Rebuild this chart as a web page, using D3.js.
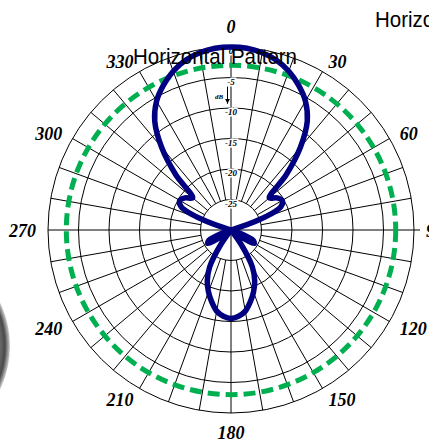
<!DOCTYPE html>
<html>
<head>
<meta charset="utf-8">
<script src="https://cdn.jsdelivr.net/npm/d3@7"></script>
<style>
  body { margin: 0; background: #fff; }
  svg { display: block; }
</style>
</head>
<body>
<div id="chart"></div>
<script>
// --------------------------------------
//  Data
// --------------------------------------

const title = "Horizontal Pattern";

// azimuth (deg) and relative level (dB)
const azimuth = [
    0,   5,  10,  15,  20,  25,  30,  35,  40,  45,  50,  55,
   60,  65,  70,  75,  80,  85,  90,  95, 100, 105, 110, 115,
  120, 125, 130, 135, 140, 145, 150, 155, 160, 165, 170, 175,
  180, 185, 190, 195, 200, 205, 210, 215, 220, 225, 230, 235,
  240, 245, 250, 255, 260, 265, 270, 275, 280, 285, 290, 295,
  300, 305, 310, 315, 320, 325, 330, 335, 340, 345, 350, 355];

const level = [
    0.0,  -0.1,  -0.5,  -1.2,  -2.3,  -3.8,  -5.6,  -8.2, -12.3, -17.2, -21.8, -20.8,
  -20.3, -21.0, -25.0, -30.0, -30.0, -30.0, -30.0, -30.0, -30.0, -30.0, -28.5, -26.0,
  -25.6, -28.0, -30.0, -30.0, -30.0, -27.0, -23.0, -20.8, -19.2, -17.8, -16.5, -15.8,
  -15.5, -15.8, -16.5, -17.8, -19.2, -20.8, -23.0, -27.0, -30.0, -30.0, -30.0, -28.0,
  -25.6, -26.0, -28.5, -30.0, -30.0, -30.0, -30.0, -30.0, -30.0, -30.0, -25.0, -21.0,
  -20.3, -20.8, -21.8, -17.2, -12.3,  -8.2,  -5.6,  -3.8,  -2.3,  -1.2,  -0.5,  -0.1];

const ringLevels = [-25, -20, -15, -10, -5, 0];
const ringLabels = ["-25", "-20", "-15", "-10", "-5", "0"];
const spokeAngles = [10, 20, 30, 40, 50, 60, 70, 80, 100, 110, 120, 130, 140, 150, 160, 170,
  190, 200, 210, 220, 230, 240, 250, 260, 280, 290, 300, 310, 320, 330, 340, 350];
const tickAngles = [0, 30, 60, 90, 120, 150, 180, 210, 240, 270, 300, 330];
const tickLabels = ["0", "30", "60", "90", "120", "150", "180", "210", "240", "270", "300", "330"];
const refLevel = -3;

// --------------------------------------
//  Canvas
// --------------------------------------

const width = 429;
const height = 445;
const cx = 231;
const cy = 230;
const R = 183;

const svg = d3.select("#chart")
  .append("svg")
    .attr("width", width)
    .attr("height", height)
    .attr("viewBox", `0 0 ${width} ${height}`);

// grey blob on the left edge
const defs = svg.append("defs");
const grad = defs.append("radialGradient").attr("id", "blob");
grad.append("stop").attr("offset", "0.80").attr("stop-color", "#9c9c9c");
grad.append("stop").attr("offset", "0.90").attr("stop-color", "#6a6a6a");
grad.append("stop").attr("offset", "0.95").attr("stop-color", "#4a4a4a");
grad.append("stop").attr("offset", "1").attr("stop-color", "#d0d0d0");
svg.append("circle")
    .attr("cx", -90)
    .attr("cy", 346)
    .attr("r", 100)
    .attr("fill", "url(#blob)");

const g = svg.append("g")
    .attr("transform", `translate(${cx}, ${cy})`);

// --------------------------------------
//  Scales
// --------------------------------------

const r = d3.scaleLinear()
    .domain([-30, 0])
    .range([0, R])
    .clamp(true);

const rad = d => d * Math.PI / 180;

// --------------------------------------
//  Grid
// --------------------------------------

g.selectAll(".ring")
  .data(ringLevels)
  .join("circle")
    .attr("class", "ring")
    .attr("r", d => r(d))
    .attr("fill", "none")
    .attr("stroke", "#000")
    .attr("stroke-width", 1);

g.selectAll(".spoke")
  .data(spokeAngles)
  .join("line")
    .attr("class", "spoke")
    .attr("x1", d => r(-25) * Math.sin(rad(d)))
    .attr("y1", d => -r(-25) * Math.cos(rad(d)))
    .attr("x2", d => R * Math.sin(rad(d)))
    .attr("y2", d => -R * Math.cos(rad(d)))
    .attr("stroke", "#000")
    .attr("stroke-width", 1);

// main axes through the centre
g.append("line")
    .attr("x1", 0).attr("y1", -R).attr("x2", 0).attr("y2", R)
    .attr("stroke", "#000");
g.append("line")
    .attr("x1", -R).attr("y1", 0).attr("x2", R + 6).attr("y2", 0)
    .attr("stroke", "#000");

// dB labels along the 0 axis
g.selectAll(".dbl")
  .data(ringLevels)
  .join("text")
    .attr("class", "dbl")
    .attr("x", 0)
    .attr("y", d => -r(d) + 5)
    .attr("text-anchor", "middle")
    .attr("dominant-baseline", "middle")
    .attr("font-family", "'Liberation Serif', 'Times New Roman', serif")
    .attr("font-style", "italic")
    .attr("font-weight", "bold")
    .attr("font-size", 9)
    .attr("stroke", "#fff")
    .attr("stroke-width", 3)
    .attr("paint-order", "stroke")
    .text((d, i) => ringLabels[i]);

g.append("text")
    .attr("x", -12)
    .attr("y", -r(-8.3))
    .attr("text-anchor", "middle")
    .attr("dominant-baseline", "middle")
    .attr("font-family", "'Liberation Serif', 'Times New Roman', serif")
    .attr("font-style", "italic")
    .attr("font-weight", "bold")
    .attr("font-size", 7)
    .text("dB");

defs.append("marker")
    .attr("id", "arr")
    .attr("viewBox", "0 0 10 10")
    .attr("refX", 10).attr("refY", 5)
    .attr("markerWidth", 5).attr("markerHeight", 5)
    .attr("orient", "auto")
  .append("path")
    .attr("d", "M0,0L10,5L0,10Z")
    .attr("fill", "#000");

g.append("line")
    .attr("x1", -3.5).attr("y1", -r(-6.5))
    .attr("x2", -3.5).attr("y2", -r(-9.3))
    .attr("stroke", "#000")
    .attr("stroke-width", 1)
    .attr("marker-end", "url(#arr)");

// --------------------------------------
//  Angle labels
// --------------------------------------

const labR = 195;
g.selectAll(".ang")
  .data(tickAngles)
  .join("text")
    .attr("class", "ang")
    .attr("x", d => labR * Math.sin(rad(d)))
    .attr("y", d => d === 0 ? -labR - 6 : d === 180 ? labR + 10 : -labR * Math.cos(rad(d)) + 3)
    .attr("text-anchor", d => d === 0 || d === 180 ? "middle" : d < 180 ? "start" : "end")
    .attr("dominant-baseline", "middle")
    .attr("font-family", "'Liberation Serif', 'Times New Roman', serif")
    .attr("font-style", "italic")
    .attr("font-weight", "bold")
    .attr("font-size", 18)
    .text((d, i) => tickLabels[i]);

// --------------------------------------
//  Pattern
// --------------------------------------

const pattern = azimuth.map((a, i) => ({a: a, db: level[i]}));

g.append("circle")
    .attr("r", r(refLevel))
    .attr("fill", "none")
    .attr("stroke", "#00b050")
    .attr("stroke-width", 5)
    .attr("stroke-dasharray", "12,6");

const line = d3.lineRadial()
    .angle(d => rad(d.a))
    .radius(d => r(d.db))
    .curve(d3.curveCatmullRomClosed.alpha(0.5));

g.append("path")
    .datum(pattern)
    .attr("d", line)
    .attr("fill", "none")
    .attr("stroke", "#000080")
    .attr("stroke-width", 5.5)
    .attr("stroke-linejoin", "round");

// --------------------------------------
//  Titles
// --------------------------------------

svg.append("text")
    .attr("x", 133)
    .attr("y", 64)
    .attr("font-family", "'Liberation Sans', Arial, sans-serif")
    .attr("font-size", 22)
    .attr("textLength", 164)
    .attr("lengthAdjust", "spacingAndGlyphs")
    .attr("fill", "#000")
    .text(title);

svg.append("text")
    .attr("x", 375)
    .attr("y", 27)
    .attr("font-family", "'Liberation Sans', Arial, sans-serif")
    .attr("font-size", 22)
    .attr("textLength", 164)
    .attr("lengthAdjust", "spacingAndGlyphs")
    .attr("fill", "#000")
    .text(title);
</script>
</body>
</html>
